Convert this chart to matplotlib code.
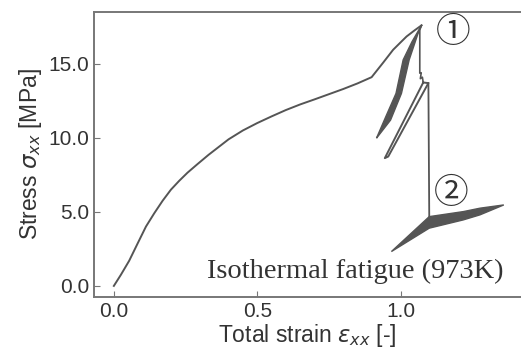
import numpy as np
import matplotlib
matplotlib.use("Agg")
import matplotlib.pyplot as plt

# ==========================================
# DATA
# ==========================================

# monotonic loading curve up to first peak
strain_mono = [0.0, 0.0245, 0.0535, 0.0825, 0.112, 0.141, 0.170, 0.199,
               0.228, 0.257, 0.29, 0.33, 0.37, 0.40, 0.45, 0.50, 0.55,
               0.60, 0.65, 0.70, 0.75, 0.80, 0.85, 0.899,
               0.940, 0.974, 1.000, 1.021, 1.048, 1.073]
stress_mono = [0.0, 0.75, 1.7, 2.85, 4.01, 4.91, 5.75, 6.5,
               7.1, 7.65, 8.2, 8.85, 9.45, 9.9, 10.5, 11.0, 11.45,
               11.88, 12.26, 12.6, 12.95, 13.3, 13.68, 14.1,
               15.1, 15.95, 16.45, 16.85, 17.25, 17.6]

# loop 1 (filled sliver): left edge bottom->top, right edge top->bottom
loop1_strain = [0.916, 0.950, 0.984, 1.009, 1.040, 1.073,
                1.060, 1.030, 1.003, 0.965, 0.925]
loop1_stress = [9.98, 11.5, 13.0, 15.27, 16.5, 17.6,
                17.0, 15.27, 13.0, 11.2, 10.2]

# drop after loop 1, with the small wiggle
drop1_strain = [1.073, 1.067, 1.067, 1.072, 1.069, 1.076, 1.079]
drop1_stress = [17.6, 17.3, 14.37, 14.4, 14.0, 14.1, 13.74]

# loop 2 (thin loop)
loop2_strain = [1.079, 0.945, 0.957, 1.097]
loop2_stress = [13.74, 8.63, 8.74, 13.70]

# big drop
drop2_strain = [1.097, 1.100]
drop2_stress = [13.70, 4.68]

# loop 3 (filled, low stress): upper edge then lower edge
loop3_strain = [0.968, 1.100, 1.219, 1.277, 1.360, 1.277, 1.219, 1.100, 0.968]
loop3_stress = [2.32, 4.68, 5.02, 5.25, 5.47, 4.80, 4.46, 3.90, 2.32]

xticks = [0.0, 0.5, 1.0]
yticks = [0.0, 5.0, 10.0, 15.0]

# ==========================================
# FIGURE
# ==========================================

plt.rcParams["font.family"] = ["Liberation Sans", "DejaVu Sans"]
plt.rcParams["mathtext.fontset"] = "dejavusans"

cor = "#555555"
cor_eixo = "#777777"
cor_texto = "#333333"

fig = plt.figure(figsize=(5.21, 3.54), dpi=100)
ax = fig.add_axes([0.18, 0.161, 0.82, 0.805])

ax.plot(strain_mono, stress_mono, color=cor, lw=1.4)
ax.fill(loop1_strain, loop1_stress, color=cor, lw=1.0, ec=cor)
ax.plot(drop1_strain, drop1_stress, color=cor, lw=1.2)
ax.plot(loop2_strain + loop2_strain[:1], loop2_stress + loop2_stress[:1],
        color=cor, lw=1.4)
ax.plot(drop2_strain, drop2_stress, color=cor, lw=1.3)
ax.fill(loop3_strain, loop3_stress, color=cor, lw=1.0, ec=cor)

ax.set_xlim(-0.07, 1.42)
ax.set_ylim(-0.75, 18.5)
ax.set_xticks(xticks)
ax.set_yticks(yticks)
ax.set_xticklabels([f"{v:.1f}" for v in xticks])
ax.set_yticklabels([f"{v:.1f}" for v in yticks])

ax.tick_params(direction="in", length=4, color=cor_eixo,
               labelsize=15, labelcolor=cor_texto)
for lado in ax.spines.values():
    lado.set_color(cor_eixo)
    lado.set_linewidth(1.4)
# a borda direita fica fora do recorte na figura original
ax.spines["right"].set_visible(False)

ax.set_xlabel(r"Total strain $\varepsilon_{xx}$ [-]", fontsize=16.5,
              color=cor_texto, labelpad=1)
ax.set_ylabel(r"Stress $\sigma_{xx}$ [MPa]", fontsize=16.5,
              color=cor_texto, labelpad=3)

ax.text(0.958, 0.065, "Isothermal fatigue (973K)", transform=ax.transAxes,
        ha="right", va="baseline", fontsize=20.5, family="Liberation Serif",
        color=cor_texto)

ax.text(1.183, 17.1, "\u2460", ha="center", va="center", fontsize=25,
        family=["Noto Sans CJK JP", "DejaVu Sans"], color=cor_texto)
ax.text(1.178, 6.26, "\u2461", ha="center", va="center", fontsize=25,
        family=["Noto Sans CJK JP", "DejaVu Sans"], color=cor_texto)

fig.savefig("out.png", dpi=100)
plt.close()
